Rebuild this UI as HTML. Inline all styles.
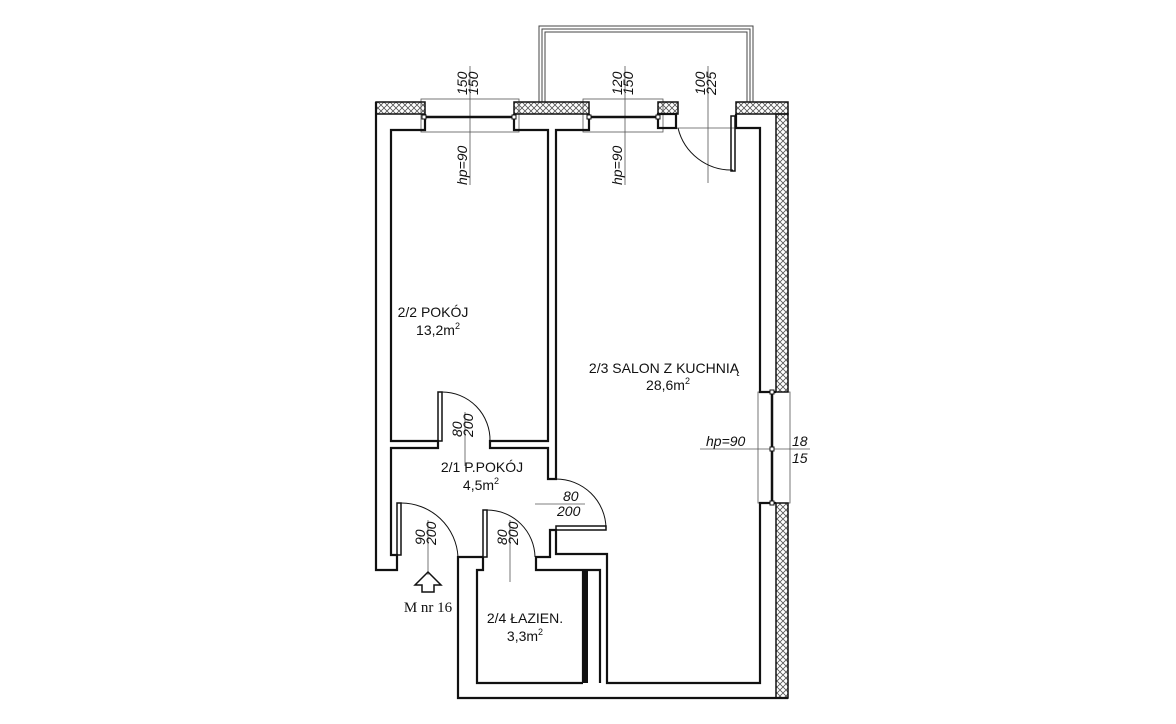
<!DOCTYPE html>
<html><head><meta charset="utf-8"><style>
html,body{margin:0;padding:0;background:#fff;}
svg{display:block;}
text{font-family:"Liberation Sans",sans-serif;fill:#111;}
</style></head><body>
<svg width="1176" height="724" viewBox="0 0 1176 724" xmlns="http://www.w3.org/2000/svg">
<defs>
<pattern id="h" width="6" height="6" patternUnits="userSpaceOnUse">
<path d="M0,0 L6,6 M6,0 L0,6" stroke="#555" stroke-width="0.8"/>
</pattern>
</defs>
<!-- balcony -->
<g fill="none" stroke="#444" stroke-width="1">
<path d="M539,102 L539,26 L753,26 L753,102"/>
<path d="M542,102 L542,29 L750,29 L750,102"/>
<path d="M545,102 L545,32 L747,32 L747,102"/>
</g>
<!-- dimension thin lines -->
<g fill="none" stroke="#555" stroke-width="0.8">
<rect x="421" y="99" width="98" height="33"/>
<line x1="470" y1="66" x2="470" y2="185"/>
<rect x="583" y="99" width="80" height="33"/>
<line x1="625" y1="66" x2="625" y2="185"/>
<line x1="708" y1="66" x2="708" y2="183"/>
<line x1="668" y1="128" x2="745" y2="128"/>
<rect x="758" y="392" width="32" height="111"/>
<line x1="700" y1="449" x2="810" y2="449"/>
<line x1="465" y1="412" x2="465" y2="466"/>
<line x1="535" y1="504" x2="585" y2="504"/>
<line x1="428" y1="520" x2="428" y2="575"/>
<line x1="510" y1="520" x2="510" y2="582"/>
</g>
<!-- hatched strips -->
<g stroke="#111" stroke-width="1.5" fill="url(#h)">
<rect x="376" y="102" width="49" height="12"/>
<rect x="514" y="102" width="75" height="12"/>
<rect x="658" y="102" width="20" height="12"/>
<rect x="736" y="102" width="52" height="12"/>
<rect x="776" y="114" width="12" height="278"/>
<rect x="776" y="503" width="12" height="195"/>
</g>
<!-- walls -->
<g fill="none" stroke="#111" stroke-width="2.2" stroke-linejoin="miter">
<path d="M376,102 L376,570 L397,570 L397,555 L391,555 L391,448 L438,448 L438,441 L391,441 L391,130 L425,130 L425,114"/>
<path d="M514,114 L514,130 L548,130 L548,441 L490,441 L490,448 L548,448 L548,479 L556,479 L556,130 L589,130 L589,114"/>
<rect x="658" y="114" width="18" height="14"/>
<path d="M736,114 L736,128 L760,128 L760,392 L776,392"/>
<path d="M776,503 L760,503 L760,683 L607,683 L607,554 L556,554 L556,530 L550,530 L550,557 L536,557 L536,570 L600,570 L600,683"/>
<path d="M483,557 L458,557 L458,698 L788,698"/>
<path d="M483,557 L483,570 L477,570 L477,683 L583,683"/>
<path d="M583,570 L583,683"/>
</g>
<rect x="583" y="570" width="5" height="113" fill="#111"/>
<!-- windows -->
<g stroke="#111" fill="none">
<line x1="425" y1="117" x2="514" y2="117" stroke-width="2.5"/>
<line x1="589" y1="117" x2="658" y2="117" stroke-width="2.5"/>
<line x1="772" y1="392" x2="772" y2="503" stroke-width="2.5"/>
<rect x="422" y="115" width="4" height="4" fill="#fff" stroke-width="1"/>
<rect x="512" y="115" width="4" height="4" fill="#fff" stroke-width="1"/>
<rect x="587" y="115" width="4" height="4" fill="#fff" stroke-width="1"/>
<rect x="656" y="115" width="4" height="4" fill="#fff" stroke-width="1"/>
<rect x="770" y="390" width="4" height="4" fill="#fff" stroke-width="1"/>
<rect x="770" y="447" width="4" height="4" fill="#fff" stroke-width="1"/>
<rect x="770" y="501" width="4" height="4" fill="#fff" stroke-width="1"/>
</g>
<!-- doors -->
<g fill="none" stroke="#111">
<rect x="731" y="116" width="4" height="55" stroke-width="1.5"/>
<path d="M678,128 A55,55 0 0 0 733,170" stroke-width="1"/>
<rect x="438" y="392" width="4" height="49" stroke-width="1.5"/>
<path d="M442,392 A48,48 0 0 1 490,441" stroke-width="1"/>
<rect x="556" y="526" width="50" height="4" stroke-width="1.5"/>
<path d="M556,479 A50,50 0 0 1 606,528" stroke-width="1"/>
<rect x="397" y="503" width="4" height="52" stroke-width="1.5"/>
<path d="M401,503 A57,57 0 0 1 458,557" stroke-width="1"/>
<rect x="483" y="510" width="4" height="47" stroke-width="1.5"/>
<path d="M487,510 A48,48 0 0 1 535,557" stroke-width="1"/>
</g>
<!-- arrow -->
<path d="M428,572 L441,585 L434,585 L434,592 L422,592 L422,585 L415,585 Z" fill="none" stroke="#111" stroke-width="1.5"/>
<text x="428" y="612" text-anchor="middle" font-size="15" style="font-family:'Liberation Serif',serif">M nr 16</text>
<!-- room labels -->
<g font-size="14" text-anchor="middle">
<text x="433" y="317">2/2 POKÓJ</text>
<text x="438" y="335">13,2m<tspan font-size="9" dy="-6">2</tspan></text>
<text x="664" y="373">2/3 SALON Z KUCHNIĄ</text>
<text x="668" y="390">28,6m<tspan font-size="9" dy="-6">2</tspan></text>
<text x="482" y="472">2/1 P.POKÓJ</text>
<text x="481" y="490">4,5m<tspan font-size="9" dy="-6">2</tspan></text>
<text x="525" y="623">2/4 ŁAZIEN.</text>
<text x="525" y="641">3,3m<tspan font-size="9" dy="-6">2</tspan></text>
</g>
<!-- dimension labels -->
<g font-size="14" font-style="italic">
<text transform="translate(467,95) rotate(-90)">150</text>
<text transform="translate(478,95) rotate(-90)">150</text>
<text transform="translate(467,185) rotate(-90)">hp=90</text>
<text transform="translate(622,95) rotate(-90)">120</text>
<text transform="translate(633,95) rotate(-90)">150</text>
<text transform="translate(622,185) rotate(-90)">hp=90</text>
<text transform="translate(705,95) rotate(-90)">100</text>
<text transform="translate(716,95) rotate(-90)">225</text>
<text x="706" y="446">hp=90</text>
<text x="792" y="446">18</text>
<text x="792" y="463">15</text>
<text transform="translate(462,437) rotate(-90)">80</text>
<text transform="translate(473,437) rotate(-90)">200</text>
<text x="563" y="501">80</text>
<text x="557" y="516">200</text>
<text transform="translate(425,545) rotate(-90)">90</text>
<text transform="translate(436,545) rotate(-90)">200</text>
<text transform="translate(507,545) rotate(-90)">80</text>
<text transform="translate(518,545) rotate(-90)">200</text>
</g>
</svg>
</body></html>
